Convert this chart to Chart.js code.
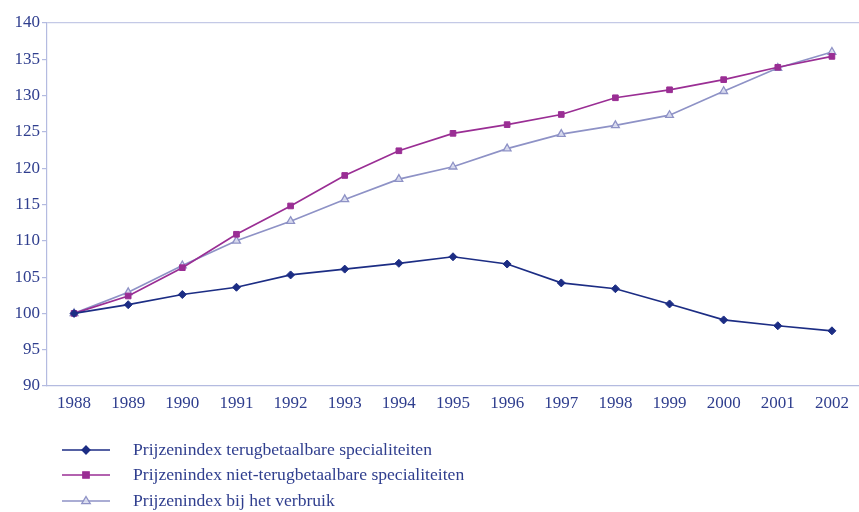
<!DOCTYPE html>
<html>
<head>
<meta charset="utf-8">
<script src="https://cdn.jsdelivr.net/npm/chart.js@4/dist/chart.umd.min.js"></script>
<style>
  html, body { margin: 0; padding: 0; background: #ffffff; }
  #wrap { width: 859px; height: 512px; }
</style>
</head>
<body>
<div id="wrap"><canvas id="c" width="859" height="512"></canvas></div>
<script>
// Years on the category axis
const years = ['1988','1989','1990','1991','1992','1993','1994','1995','1996','1997','1998','1999','2000','2001','2002'];

// Index values (1988 = 100)
const terugbetaalbaar = [100, 101.2, 102.6, 103.6, 105.3, 106.1, 106.9, 107.8, 106.8, 104.2, 103.4, 101.3, 99.1, 98.3, 97.6];
const nietTerugbetaalbaar = [100, 102.4, 106.3, 110.9, 114.8, 119.0, 122.4, 124.8, 126.0, 127.4, 129.7, 130.8, 132.2, 133.9, 135.4];
const verbruik = [100, 102.9, 106.6, 110.0, 112.7, 115.7, 118.5, 120.2, 122.7, 124.7, 125.9, 127.3, 130.6, 133.8, 136.0];

// Tick range of the value axis
const yMin = 90, yMax = 140, yStep = 5;

const seriesLabels = [
  'Prijzenindex terugbetaalbare specialiteiten',
  'Prijzenindex niet-terugbetaalbare specialiteiten',
  'Prijzenindex bij het verbruik'
];

const NAVY = '#1c2d84';
const PURPLE = '#9a2e94';
const LAVENDER = '#8e92c6';
const AXIS = '#b4bbe0';
const TEXT = '#2f3e8e';
const FONT = '"Liberation Serif", "Times New Roman", serif';

// Legend drawn as a vertical list under the plot: line segment + marker + text
const legendList = {
  id: 'legendList',
  afterDraw(chart) {
    const ctx = chart.ctx;
    const rows = [450, 475, 501];
    ctx.save();
    chart.data.datasets.forEach((ds, i) => {
      const y = rows[i];
      ctx.strokeStyle = ds.borderColor;
      ctx.lineWidth = 1.6;
      ctx.beginPath();
      ctx.moveTo(62, y);
      ctx.lineTo(110, y);
      ctx.stroke();
      ctx.fillStyle = ds.pointBackgroundColor;
      ctx.strokeStyle = ds.pointBorderColor;
      ctx.lineWidth = 1.3;
      const cx = 86, r = ds.pointRadius;
      ctx.beginPath();
      if (ds.pointStyle === 'rectRot') {
        ctx.moveTo(cx, y - r); ctx.lineTo(cx + r, y); ctx.lineTo(cx, y + r); ctx.lineTo(cx - r, y); ctx.closePath();
      } else if (ds.pointStyle === 'rect') {
        ctx.rect(cx - r * 0.8, y - r * 0.8, r * 1.6, r * 1.6);
      } else {
        ctx.moveTo(cx, y - r); ctx.lineTo(cx + r * 0.95, y + r * 0.6); ctx.lineTo(cx - r * 0.95, y + r * 0.6); ctx.closePath();
      }
      ctx.fill();
      ctx.stroke();
      ctx.fillStyle = TEXT;
      ctx.font = '17.6px ' + FONT;
      ctx.textBaseline = 'middle';
      ctx.textAlign = 'left';
      ctx.fillText(ds.label, 133, y);
    });
    ctx.restore();
  }
};

new Chart(document.getElementById('c'), {
  type: 'line',
  data: {
    labels: years,
    datasets: [
      {
        label: seriesLabels[0],
        data: terugbetaalbaar,
        borderColor: NAVY,
        backgroundColor: NAVY,
        pointBackgroundColor: NAVY,
        pointBorderColor: NAVY,
        pointStyle: 'rectRot',
        pointRadius: 4,
        pointBorderWidth: 1,
        borderWidth: 1.7,
        tension: 0
      },
      {
        label: seriesLabels[1],
        data: nietTerugbetaalbaar,
        borderColor: PURPLE,
        backgroundColor: PURPLE,
        pointBackgroundColor: PURPLE,
        pointBorderColor: PURPLE,
        pointStyle: 'rect',
        pointRadius: 4,
        pointBorderWidth: 1,
        borderWidth: 1.7,
        tension: 0
      },
      {
        label: seriesLabels[2],
        data: verbruik,
        borderColor: LAVENDER,
        backgroundColor: LAVENDER,
        pointBackgroundColor: 'rgba(220,222,240,0.9)',
        pointBorderColor: LAVENDER,
        pointStyle: 'triangle',
        pointRadius: 4.5,
        pointBorderWidth: 1.3,
        borderWidth: 1.7,
        tension: 0
      }
    ]
  },
  options: {
    responsive: false,
    animation: false,
    layout: { autoPadding: false, padding: { top: 23, right: 0, left: 0, bottom: 0 } },
    plugins: {
      legend: { display: false },
      tooltip: { enabled: false }
    },
    scales: {
      x: {
        offset: true,
        grid: { display: false, drawTicks: false },
        border: { display: true, color: AXIS, width: 1.2 },
        ticks: {
          color: TEXT,
          font: { family: FONT, size: 17 },
          padding: 7,
          maxRotation: 0,
          autoSkip: false
        },
        afterFit(scale) {
          scale.height = 126;
          scale.paddingLeft = 0;
          scale.paddingRight = 0;
        }
      },
      y: {
        min: yMin,
        max: yMax,
        grid: {
          drawOnChartArea: true,
          color: (c) => (c.tick && c.tick.value === yMax ? '#c4c9e6' : 'rgba(0,0,0,0)'),
          tickColor: AXIS,
          tickLength: 5,
          lineWidth: 1.2
        },
        border: { display: true, color: AXIS, width: 1.2 },
        ticks: {
          stepSize: yStep,
          color: TEXT,
          font: { family: FONT, size: 17 },
          padding: 2
        },
        afterFit(scale) { scale.width = 47; }
      }
    }
  },
  plugins: [legendList]
});
</script>
</body>
</html>
